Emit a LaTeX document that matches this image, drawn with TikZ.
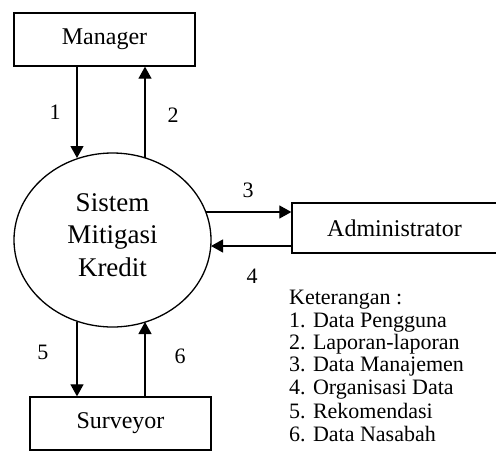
\documentclass[tikz,border=0pt]{standalone}
\usepackage{fontspec}
\setmainfont{Liberation Serif}
\usetikzlibrary{arrows.meta,shapes.geometric}
\begin{document}
\begin{tikzpicture}[x=1pt,y=-1pt,
  entity/.style={draw,line width=1.3pt,inner sep=0pt,minimum width=181pt,minimum height=53pt,font=\fontsize{24}{28}\selectfont},
  flow/.style={line width=1.2pt,-{Triangle[length=12pt,width=13pt]}},
  lbl/.style={inner sep=0pt,font=\fontsize{22}{26}\selectfont},
  leg/.style={inner sep=0pt,anchor=west,font=\fontsize{22}{26}\selectfont}]
\useasboundingbox (0,0) rectangle (496,467);
\node[entity] (mgr) at (104.5,39.5) {Manager};
\node[entity] (srv) at (120.5,423.5) {Surveyor};
\node[entity,minimum width=205pt,minimum height=50pt] (adm) at (394.5,228) {Administrator};
\node[draw,ellipse,line width=1.3pt,inner sep=0pt,minimum width=197pt,minimum height=174pt] (sys) at (112.5,240) {};
\node[inner sep=0pt,align=center,font=\fontsize{27}{32.5}\selectfont] (systxt) at (112.5,235) {Sistem\\Mitigasi\\Kredit};
% points on the ellipse
\coordinate (e1) at (77,158);
\coordinate (e2) at (145,157.5);
\coordinate (e3) at (206,212);
\coordinate (e4) at (211,246);
\coordinate (e5) at (77,321.5);
\coordinate (e6) at (145,322);
\draw[flow] (mgr.south -| e1) -- (e1);
\draw[flow] (e2) -- (mgr.south -| e2);
\draw[flow] (e3) -- (adm.west |- e3);
\draw[flow] (adm.west |- e4) -- (e4);
\draw[flow] (e5) -- (srv.north -| e5);
\draw[flow] (srv.north -| e6) -- (e6);
\node[lbl] (l1) at (55,112) {1};
\node[lbl] (l2) at (173,115) {2};
\node[lbl] (l3) at (248,190) {3};
\node[lbl] (l4) at (252,276) {4};
\node[lbl] (l5) at (43,352) {5};
\node[lbl] (l6) at (180,356) {6};
\node[leg] (k0) at (289,300) {Keterangan :};
\node[leg] (k1) at (289,322.3) {1. Data Pengguna};
\node[leg] (k2) at (289,344.6) {2. Laporan-laporan};
\node[leg] (k3) at (289,366.9) {3. Data Manajemen};
\node[leg] (k4) at (289,389.2) {4. Organisasi Data};
\node[leg] (k5) at (289,411.5) {5. Rekomendasi};
\node[leg] (k6) at (289,433.8) {6. Data Nasabah};
\end{tikzpicture}
\end{document}
